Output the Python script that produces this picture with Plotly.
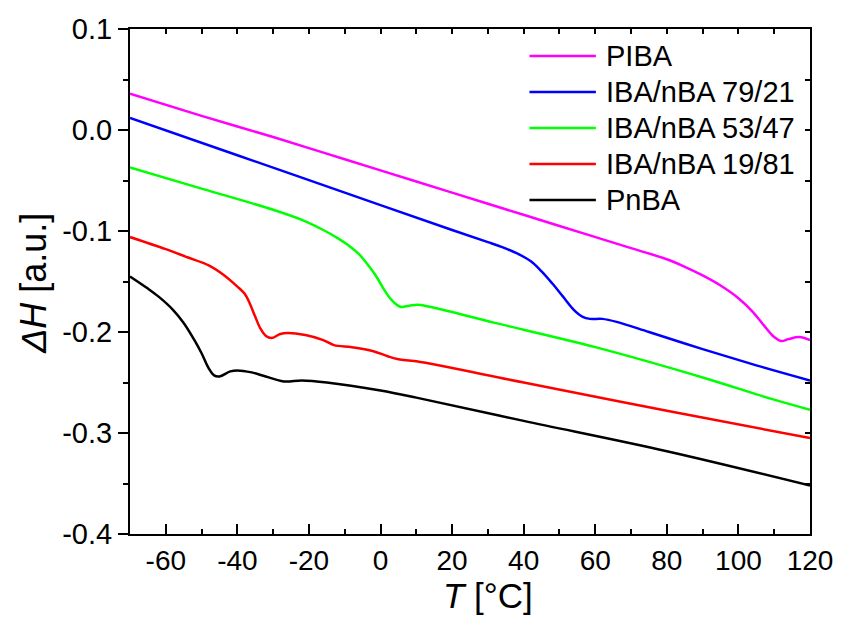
import plotly.graph_objects as go

# ---------------- data ----------------
names = ["PIBA", "IBA/nBA 79/21", "IBA/nBA 53/47", "IBA/nBA 19/81", "PnBA"]
colors = ["#FF00FF", "#0000FF", "#00FF00", "#FF0000", "#000000"]

piba_T = [-70, -50, -30, -10, 10, 30, 50, 70, 80, 85, 90, 95, 100, 104, 107, 110, 112, 114, 117, 120]
piba_H = [0.036, 0.014, -0.007, -0.029, -0.051, -0.073, -0.095, -0.117, -0.128, -0.1355, -0.144,
          -0.154, -0.1665, -0.180, -0.193, -0.205, -0.209, -0.207, -0.205, -0.208]

b79_T = [-70, -40, -10, 20, 30, 34, 38, 42, 45, 48, 51, 54, 56.5, 58.5, 62, 66, 75, 90, 105, 120]
b79_H = [0.012, -0.025, -0.062, -0.099, -0.111, -0.116, -0.122, -0.130, -0.140, -0.152, -0.165,
         -0.178, -0.185, -0.187, -0.187, -0.190, -0.200, -0.217, -0.233, -0.248]

b53_T = [-70, -50, -30, -22, -16, -12, -9, -6, -3, -1, 1, 3, 5.5, 8, 10.5, 15, 32, 60, 90, 109, 120]
b53_H = [-0.037, -0.058, -0.079, -0.089, -0.099, -0.107, -0.114, -0.123, -0.136, -0.146,
         -0.158, -0.168, -0.175, -0.174, -0.173, -0.176, -0.191, -0.215, -0.245, -0.266, -0.277]

b19_T = [-70, -60, -54, -48, -44, -40, -38, -36.5, -35, -33.5, -32, -30.5, -28, -26, -21, -16,
         -13, -8, -2, 2, 5, 10, 40, 80, 120]
b19_H = [-0.106, -0.118, -0.126, -0.134, -0.143, -0.155, -0.162, -0.172, -0.185, -0.197,
         -0.204, -0.206, -0.202, -0.201, -0.203, -0.208, -0.213, -0.215, -0.219, -0.224,
         -0.227, -0.229, -0.250, -0.278, -0.305]

pnba_T = [-70, -65, -62, -58, -55, -52, -50, -48, -46.5, -45, -42, -40, -36, -33, -27, -22, -15,
          0, 10, 40, 80, 120]
pnba_H = [-0.145, -0.157, -0.165, -0.178, -0.191, -0.208, -0.221, -0.236, -0.243, -0.244,
          -0.239, -0.238, -0.240, -0.243, -0.249, -0.248, -0.250, -0.258, -0.265, -0.288,
          -0.318, -0.352]

series_T = [piba_T, b79_T, b53_T, b19_T, pnba_T]
series_H = [piba_H, b79_H, b53_H, b19_H, pnba_H]

x_ticks = [-60, -40, -20, 0, 20, 40, 60, 80, 100, 120]
y_ticks = [-0.4, -0.3, -0.2, -0.1, 0.0, 0.1]
x_range = [-70, 120]
y_range = [-0.4, 0.1]

# ---------------- figure ----------------
FONT = "Liberation Sans, Arial, sans-serif"
W, H = 845, 618
L, R, T, B = 130, 29, 29, 84
pw, ph = W - L - R, H - T - B

fig = go.Figure()
for n, c, xs, ys in zip(names, colors, series_T, series_H):
    fig.add_trace(go.Scatter(x=xs, y=ys, mode="lines", name=n,
                             line=dict(color=c, width=2.5, shape="spline", smoothing=1.0),
                             showlegend=False))

# dummy traces so the mirror axes are drawn
fig.add_trace(go.Scatter(x=[None], y=[None], xaxis="x2", yaxis="y", showlegend=False))
fig.add_trace(go.Scatter(x=[None], y=[None], xaxis="x", yaxis="y2", showlegend=False))

fig.update_layout(
    width=W, height=H,
    margin=dict(l=L, r=R, t=T, b=B),
    paper_bgcolor="white", plot_bgcolor="white",
    font=dict(family=FONT, size=29, color="black"),
    showlegend=False,
    xaxis=dict(range=x_range, tickvals=x_ticks, ticktext=[str(v) for v in x_ticks],
               ticks="inside", ticklen=10, tickwidth=2, tickcolor="black",
               minor=dict(dtick=10, tick0=0, ticks="inside", ticklen=5, tickwidth=2, tickcolor="black"),
               showline=True, linewidth=2, linecolor="black", showgrid=False, zeroline=False,
               tickfont=dict(size=28), ticklabelstandoff=0),
    yaxis=dict(range=y_range, tickvals=y_ticks, ticktext=[f"{v:.1f}" for v in y_ticks],
               ticks="outside", ticklen=10, tickwidth=2, tickcolor="black",
               minor=dict(dtick=0.05, tick0=0, ticks="outside", ticklen=5, tickwidth=2, tickcolor="black"),
               showline=True, linewidth=2, linecolor="black", showgrid=False, zeroline=False,
               tickfont=dict(size=29)),
    xaxis2=dict(range=x_range, overlaying="x", side="top", dtick=10, tick0=0,
                ticks="inside", ticklen=5, tickwidth=2, tickcolor="black",
                showticklabels=False, showline=True, linewidth=2, linecolor="black",
                showgrid=False, zeroline=False),
    yaxis2=dict(range=y_range, overlaying="y", side="right", dtick=0.05, tick0=0,
                ticks="inside", ticklen=5, tickwidth=2, tickcolor="black",
                showticklabels=False, showline=True, linewidth=2, linecolor="black",
                showgrid=False, zeroline=False),
)

def px2paper(px, py):
    return (px - L) / pw, (H - B - py) / ph

# custom legend (long line samples)
row_y = [56, 92, 128, 164, 200]
for n, c, ry in zip(names, colors, row_y):
    x0, y0 = px2paper(533, ry)
    x1, _ = px2paper(600, ry)
    fig.add_shape(type="line", xref="paper", yref="paper", x0=x0, x1=x1, y0=y0, y1=y0,
                  line=dict(color=c, width=2.5))
    tx, _ = px2paper(608, ry)
    fig.add_annotation(xref="paper", yref="paper", x=tx, y=y0, text=n, showarrow=False,
                       xanchor="left", yanchor="middle", font=dict(size=29, family=FONT))

# axis titles
ax, ay = px2paper(491, 595)
fig.add_annotation(xref="paper", yref="paper", x=ax, y=ay, text="<i>T</i> [°C]",
                   showarrow=False, xanchor="center", yanchor="middle", borderpad=0,
                   font=dict(size=35, family=FONT))
bx, by = px2paper(32, 283)
fig.add_annotation(xref="paper", yref="paper", x=bx, y=by, text="<i>ΔH</i> [a.u.]",
                   showarrow=False, xanchor="center", yanchor="middle", textangle=-90,
                   font=dict(size=36, family=FONT))

fig.write_html("out.html")
